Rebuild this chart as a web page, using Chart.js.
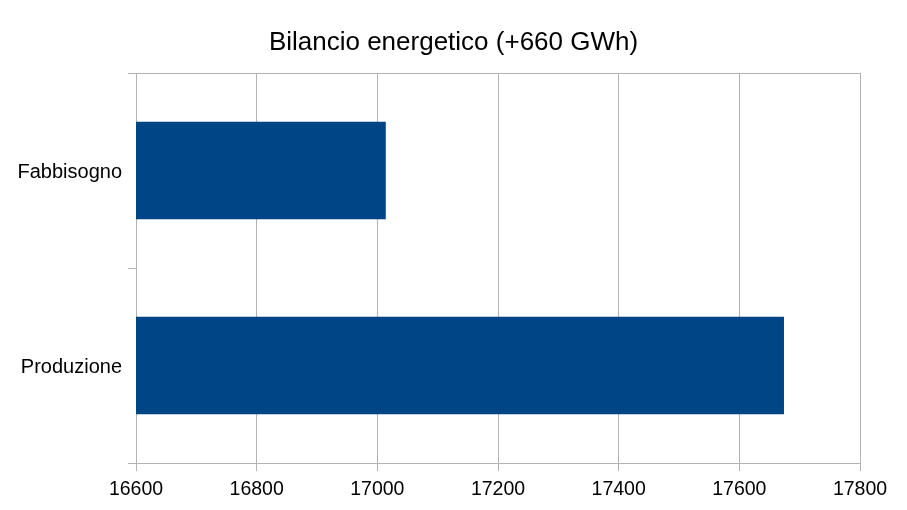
<!DOCTYPE html>
<html>
<head>
<meta charset="utf-8">
<script src="https://cdn.jsdelivr.net/npm/chart.js@4"></script>
<style>
    html, body { margin: 0; padding: 0; background: #fff; }
    #wrap { width: 907px; height: 510px; }
</style>
</head>
<body>
<div id="wrap"><canvas id="myBarChart" width="907" height="510"></canvas></div>
<script>
// Chart data
const categories = ['Fabbisogno', 'Produzione'];
const energyValues = [17014, 17674];
const titleText = 'Bilancio energetico (+660 GWh)';
const axisMin = 16600;
const axisMax = 17800;
const axisStep = 200;

const gridColor = '#b3b3b3';
const fontFamily = '"Liberation Sans", Arial, sans-serif';

const ctx = document.getElementById('myBarChart').getContext('2d');

new Chart(ctx, {
    type: 'bar',
    data: {
        labels: categories,
        datasets: [{
            label: 'GWh',
            data: energyValues,
            backgroundColor: '#004586',
            borderWidth: 0,
            barPercentage: 0.5,
            categoryPercentage: 1
        }]
    },
    options: {
        indexAxis: 'y',
        responsive: false,
        animation: false,
        layout: { padding: 0 },
        plugins: {
            legend: { display: false },
            tooltip: { enabled: false },
            title: {
                display: true,
                text: titleText,
                color: '#000',
                font: { family: fontFamily, size: 26, weight: 'normal', lineHeight: 1.2 },
                padding: { top: 27.5, bottom: 14.3 }
            }
        },
        scales: {
            x: {
                min: axisMin,
                max: axisMax,
                ticks: {
                    stepSize: axisStep,
                    color: '#000',
                    padding: 7,
                    font: { family: fontFamily, size: 19.5 },
                    callback: (value) => String(value)
                },
                grid: { color: gridColor, tickColor: gridColor, tickLength: 8 },
                border: { color: gridColor },
                afterFit: (scale) => { scale.height = 47; }
            },
            y: {
                ticks: {
                    color: '#000',
                    padding: 6,
                    labelOffset: 1.5,
                    font: { family: fontFamily, size: 20 }
                },
                grid: {
                    offset: true,
                    // only the outer boundary lines run across the plot
                    color: (c) => (c.index === 1 ? 'rgba(0,0,0,0)' : gridColor),
                    tickColor: gridColor,
                    tickLength: 8
                },
                border: { color: gridColor },
                afterFit: (scale) => { scale.width = 136; }
            },
            // empty right-hand axis, just keeps space so the title stays centred on the page
            yRight: {
                type: 'category',
                position: 'right',
                grid: { display: false },
                border: { display: false },
                ticks: { display: false },
                afterFit: (scale) => { scale.width = 47; }
            }
        }
    }
});
</script>
</body>
</html>
